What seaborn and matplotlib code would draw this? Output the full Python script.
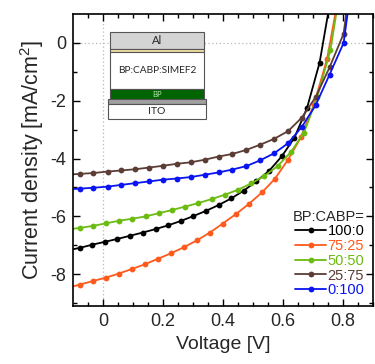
import matplotlib
matplotlib.use("Agg")
import matplotlib.pyplot as plt
from matplotlib.patches import Rectangle
import seaborn as sns
import pandas as pd

# ---- data ----
labels = ["100:0", "75:25", "50:50", "25:75", "0:100"]
colors = ["#000000", "#ff5a1e", "#6cbb10", "#5c3d36", "#0a14f0"]

V_black = [-0.120, -0.078, -0.036, 0.006, 0.048, 0.090, 0.132, 0.175, 0.217, 0.259, 0.301,
           0.343, 0.385, 0.427, 0.469, 0.511, 0.554, 0.596, 0.638, 0.680, 0.722, 0.764]
J_black = [-7.18, -7.09, -6.98, -6.88, -6.78, -6.67, -6.56, -6.44, -6.31, -6.16, -5.99,
           -5.81, -5.61, -5.38, -5.11, -4.79, -4.42, -3.92, -3.28, -2.25, -0.68, 1.84]

V_orange = [-0.121, -0.078, -0.035, 0.009, 0.052, 0.096, 0.139, 0.182, 0.226, 0.269, 0.313,
            0.356, 0.399, 0.443, 0.486, 0.530, 0.573, 0.616, 0.660, 0.703, 0.747, 0.790]
J_orange = [-8.48, -8.36, -8.24, -8.12, -7.98, -7.82, -7.66, -7.47, -7.28, -7.07, -6.83,
            -6.56, -6.25, -5.92, -5.57, -5.17, -4.70, -4.05, -3.26, -2.13, -0.55, 1.90]

V_green = [-0.122, -0.078, -0.034, 0.010, 0.054, 0.098, 0.142, 0.186, 0.230, 0.274, 0.318,
           0.362, 0.406, 0.450, 0.494, 0.538, 0.582, 0.626, 0.670, 0.714, 0.758, 0.802]
J_green = [-6.46, -6.40, -6.33, -6.24, -6.15, -6.08, -6.00, -5.89, -5.78, -5.66, -5.54,
           -5.40, -5.25, -5.08, -4.86, -4.60, -4.26, -3.78, -3.10, -1.88, -0.25, 2.60]

V_brown = [-0.124, -0.078, -0.032, 0.015, 0.061, 0.107, 0.154, 0.200, 0.246, 0.292, 0.339,
           0.385, 0.431, 0.478, 0.524, 0.570, 0.617, 0.663, 0.709, 0.755, 0.802, 0.848]
J_brown = [-4.56, -4.53, -4.50, -4.45, -4.41, -4.37, -4.31, -4.25, -4.18, -4.13, -4.04,
           -3.93, -3.84, -3.70, -3.52, -3.32, -3.05, -2.58, -1.87, -0.85, 0.32, 4.00]

V_blue = [-0.124, -0.078, -0.032, 0.015, 0.061, 0.107, 0.154, 0.200, 0.246, 0.292, 0.339,
          0.385, 0.431, 0.478, 0.524, 0.570, 0.617, 0.663, 0.709, 0.755, 0.802, 0.848]
J_blue = [-5.07, -5.04, -5.01, -4.97, -4.91, -4.85, -4.79, -4.73, -4.69, -4.64, -4.56,
          -4.48, -4.38, -4.26, -4.06, -3.82, -3.47, -2.90, -2.15, -1.10, 0.00, 3.50]

x_ticks = [0, 0.2, 0.4, 0.6, 0.8]
x_ticklabels = ["0", "0.2", "0.4", "0.6", "0.8"]
y_ticks = [0, -2, -4, -6, -8]
y_ticklabels = ["0", "-2", "-4", "-6", "-8"]

series_V = [V_black, V_orange, V_green, V_brown, V_blue]
series_J = [J_black, J_orange, J_green, J_brown, J_blue]
frames = []
for lab, vv, jj in zip(labels, series_V, series_J):
    frames.append(pd.DataFrame({"V": vv, "J": jj, "ratio": lab}))
df = pd.concat(frames, ignore_index=True)

# ---- style ----
sns.set_style("ticks")
plt.rcParams["font.family"] = ["Liberation Sans", "DejaVu Sans"]
plt.rcParams["mathtext.fontset"] = "custom"
plt.rcParams["mathtext.rm"] = "Liberation Sans"

fig = plt.figure(figsize=(3.75, 3.64), dpi=100)
ax = fig.add_axes([0.1947, 0.1593, 0.8, 0.8022])

ax.axvline(0, ls=(0, (1, 2)), color="#b8b8b8", lw=0.9, zorder=0)
ax.axhline(0, ls=(0, (1, 2)), color="#b8b8b8", lw=0.9, zorder=0)

sns.lineplot(data=df, x="V", y="J", hue="ratio", hue_order=labels,
             palette=dict(zip(labels, colors)), marker="o", markersize=4.2,
             markeredgewidth=0, lw=1.3, sort=False, estimator=None, ax=ax)

ax.set_xlim(-0.1, 0.9)
ax.set_ylim(-9.1, 1.0)
ax.set_xticks(x_ticks)
ax.set_xticklabels(x_ticklabels)
ax.set_yticks(y_ticks)
ax.set_yticklabels(y_ticklabels)
ax.set_xticks([-0.05 + 0.05 * i for i in range(20)], minor=True)
ax.set_yticks([-9 + i for i in range(10)], minor=True)
ax.tick_params(which="both", direction="in", top=True, right=True, color="black")
ax.tick_params(which="major", length=5, width=1.0, labelsize=13, pad=5)
ax.tick_params(which="minor", length=3, width=1.0)
for s in ax.spines.values():
    s.set_color("black")
    s.set_linewidth(1.2)

ax.set_xlabel("Voltage [V]", fontsize=14, labelpad=4)
ax.set_ylabel("Current density [mA/cm$^2$]", fontsize=15.5, labelpad=3)

# legend
handles, labs = ax.get_legend_handles_labels()
leg = ax.legend(handles, labs, title="BP:CABP=", loc="lower right",
                bbox_to_anchor=(1.0, 0.0), frameon=False, fontsize=10.5,
                title_fontsize=10.5, handlelength=2.1, handletextpad=0.1,
                labelspacing=0.05, borderaxespad=0.2, labelcolor="linecolor",
                alignment="right")

# inset device schematic (axes fraction coordinates)
T = ax.transAxes
edge = "#555555"
def box(x0, y0, x1, y1, fc):
    ax.add_patch(Rectangle((x0, y0), x1 - x0, y1 - y0, transform=T, fc=fc,
                           ec=edge, lw=0.8, zorder=5))
box(0.123, 0.879, 0.437, 0.938, "#d4d4d4")
box(0.123, 0.869, 0.437, 0.879, "#f2dfa0")
box(0.123, 0.742, 0.437, 0.869, "white")
box(0.123, 0.710, 0.437, 0.742, "#006400")
box(0.116, 0.691, 0.443, 0.710, "#a0a0a0")
box(0.116, 0.641, 0.443, 0.691, "white")
ifont = ["Lato", "DejaVu Sans"]
ax.text(0.28, 0.908, "Al", transform=T, ha="center", va="center", fontsize=8,
        family=ifont, zorder=6)
ax.text(0.28, 0.806, "BP:CABP:SIMEF2", transform=T, ha="center", va="center",
        fontsize=7.3, family=ifont, zorder=6)
ax.text(0.28, 0.726, "BP", transform=T, ha="center", va="center", fontsize=5.5,
        family=ifont, color="#b8e8b0", zorder=6)
ax.text(0.28, 0.666, "ITO", transform=T, ha="center", va="center", fontsize=7.5,
        family=ifont, zorder=6)

fig.savefig("out.png", dpi=100)
